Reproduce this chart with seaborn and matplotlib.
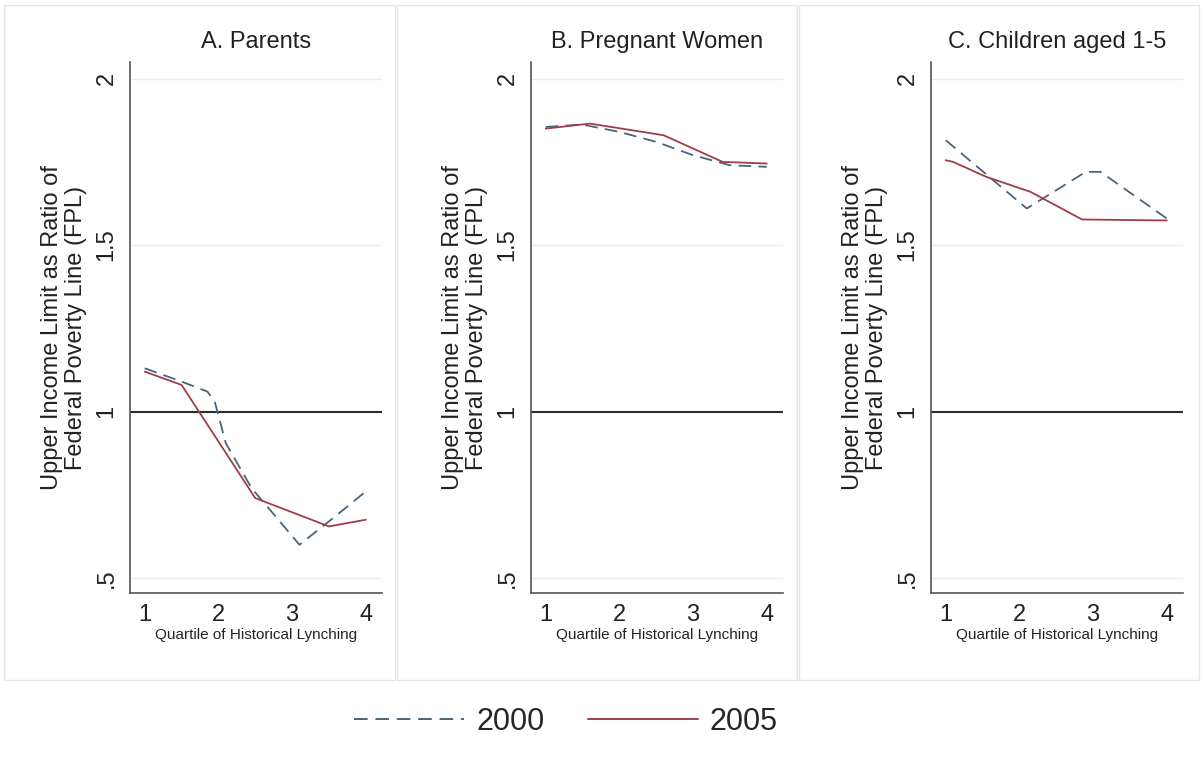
import matplotlib
matplotlib.use("Agg")
import matplotlib.pyplot as plt
from matplotlib.lines import Line2D
from matplotlib.patches import Rectangle
import seaborn as sns
import pandas as pd

sns.set_style("white")
plt.rcParams['font.family'] = ['Liberation Sans', 'DejaVu Sans']

# ---- data ----
panel_titles = ["A. Parents", "B. Pregnant Women", "C. Children aged 1-5"]
years = ["2000", "2005"]

parents_2000_x = [1, 1.5, 1.85, 1.95, 2.1, 2.45, 3.1, 3.5, 4]
parents_2000_y = [1.13, 1.09, 1.06, 1.03, 0.905, 0.77, 0.60, 0.67, 0.76]
parents_2005_x = [1, 1.5, 2.5, 3.5, 4]
parents_2005_y = [1.12, 1.08, 0.74, 0.655, 0.675]

pregnant_2000_x = [1, 1.5, 2, 2.5, 3, 3.5, 4]
pregnant_2000_y = [1.855, 1.862, 1.84, 1.81, 1.77, 1.74, 1.735]
pregnant_2005_x = [1, 1.6, 2.6, 3.4, 4]
pregnant_2005_y = [1.85, 1.865, 1.83, 1.75, 1.745]

children_2000_x = [1, 2.1, 2.9, 3.1, 4]
children_2000_y = [1.815, 1.61, 1.72, 1.72, 1.58]
children_2005_x = [1, 1.1, 1.55, 2.15, 2.85, 4]
children_2005_y = [1.755, 1.75, 1.705, 1.66, 1.577, 1.574]

ytick_vals = [0.5, 1, 1.5, 2]
ytick_labels = [".5", "1", "1.5", "2"]
xtick_vals = [1, 2, 3, 4]
xlabel = "Quartile of Historical Lynching"
ylabel = "Upper Income Limit as Ratio of\nFederal Poverty Line (FPL)"

series = [
    ((parents_2000_x, parents_2000_y), (parents_2005_x, parents_2005_y)),
    ((pregnant_2000_x, pregnant_2000_y), (pregnant_2005_x, pregnant_2005_y)),
    ((children_2000_x, children_2000_y), (children_2005_x, children_2005_y)),
]

col2000 = "#4a6478"
col2005 = "#9e3e4a"
palette = {"2000": col2000, "2005": col2005}
dashes = {"2000": (7, 4), "2005": ""}

W, H = 1203, 763
fig = plt.figure(figsize=(W / 100, H / 100), dpi=100)
fig.patch.set_facecolor("white")

# panel frames (pixel coords)
frames = [(4, 395), (397, 797), (799, 1199)]
for x0, x1 in frames:
    fig.patches.append(Rectangle((x0 / W, 1 - 680 / H), (x1 - x0) / W, 675 / H,
                                 transform=fig.transFigure, fill=False,
                                 edgecolor="#e6e6e6", lw=1.0, zorder=0))

ax_lefts = [130, 531, 931]
ax_w = 252
ax_top, ax_bot = 62, 593

for i, (lp, title) in enumerate(zip(ax_lefts, panel_titles)):
    ax = fig.add_axes([lp / W, 1 - ax_bot / H, ax_w / W, (ax_bot - ax_top) / H])
    rows = []
    for yr, (xs, ys) in zip(years, series[i]):
        for xv, yv in zip(xs, ys):
            rows.append({"quartile": xv, "ratio": yv, "year": yr})
    df = pd.DataFrame(rows)
    ax.grid(axis="y", color="#ececec", lw=1.0)
    ax.set_axisbelow(True)
    sns.lineplot(data=df, x="quartile", y="ratio", hue="year", style="year",
                 palette=palette, dashes=dashes, estimator=None, sort=False,
                 legend=False, ax=ax, lw=1.3)
    ax.axhline(1, color="#2b2b2b", lw=1.5, zorder=1)
    ax.set_xlim(0.8, 4.22)
    ax.set_ylim(0.455, 2.05)
    ax.set_yticks(ytick_vals)
    ax.set_yticklabels(ytick_labels, rotation=90, va="center", fontsize=17, color="#222222")
    ax.set_xticks(xtick_vals)
    ax.set_xticklabels([str(v) for v in xtick_vals], fontsize=17, color="#222222")
    ax.tick_params(axis="both", length=6, width=1.1, color="#555555", pad=3)
    ax.tick_params(axis="x", pad=2)
    for s in ["top", "right"]:
        ax.spines[s].set_visible(False)
    for s in ["left", "bottom"]:
        ax.spines[s].set_color("#555555")
        ax.spines[s].set_linewidth(1.2)
    ax.set_xlabel(xlabel, fontsize=11, labelpad=1, color="#222222")
    ax.set_ylabel(ylabel, fontsize=17, labelpad=6, color="#222222", linespacing=1.1)
    ax.set_title(title, fontsize=17, pad=10, color="#222222")
    ax.set_facecolor("white")

handles = [Line2D([], [], color=col2000, lw=1.4, dashes=(7, 4)),
           Line2D([], [], color=col2005, lw=1.4)]
fig.legend(handles, years, loc="center", bbox_to_anchor=(566 / W, 1 - 722 / H), ncol=2,
           frameon=False, fontsize=22, handlelength=3.6, handletextpad=0.4,
           columnspacing=1.4)

fig.savefig("out.png", dpi=100, facecolor="white")
